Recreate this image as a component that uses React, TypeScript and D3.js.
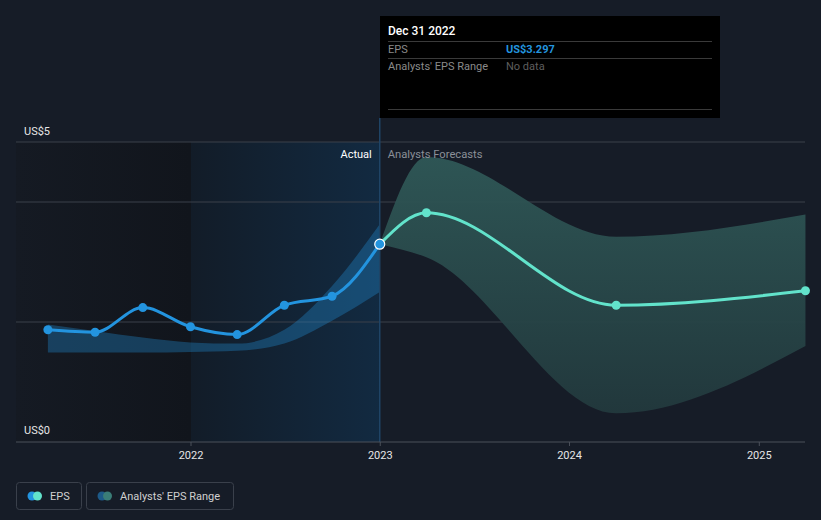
import React from "react";
import * as d3 from "d3";

const W = 821;
const H = 520;

const actualDates = ["2021-03-31", "2021-06-30", "2021-09-30", "2021-12-31", "2022-03-31", "2022-06-30", "2022-09-30", "2022-12-31"];
const actualEps = [1.87, 1.83, 2.24, 1.92, 1.79, 2.28, 2.43, 3.297];
const pastRangeHigh = [1.96, 1.85, 1.74, 1.66, 1.64, 1.87, 2.6, 3.63];
const pastRangeLow = [1.49, 1.49, 1.49, 1.5, 1.52, 1.64, 2.02, 2.5];

const forecastDates = ["2022-12-31", "2023-03-31", "2024-03-31", "2025-03-31"];
const forecastEps = [3.297, 3.82, 2.28, 2.52];
const forecastHigh = [3.297, 4.75, 3.42, 3.79];
const forecastLow = [3.297, 3.08, 0.48, 1.6];

const yearTicks = ["2022", "2023", "2024", "2025"];
const yTickLabels = ["US$0", "US$5"];
const gridValues = [2, 4, 5];

const parse = d3.timeParse("%Y-%m-%d");

export default function App() {
  const x = d3
    .scaleTime()
    .domain([new Date(2022, 0, 1), new Date(2025, 0, 1)])
    .range([191, 759.3]);
  const y = d3.scaleLinear().domain([0, 5]).range([442, 142]);

  const left = 16;
  const right = 805;
  const nowX = x(parse("2022-12-31")!);
  const x2022 = x(new Date(2022, 0, 1));

  const actual = actualDates.map((d, i) => ({ d: parse(d)!, v: actualEps[i], hi: pastRangeHigh[i], lo: pastRangeLow[i] }));
  const fc = forecastDates.map((d, i) => ({ d: parse(d)!, v: forecastEps[i], hi: forecastHigh[i], lo: forecastLow[i] }));

  const line = d3
    .line<{ d: Date; v: number }>()
    .x((p) => x(p.d))
    .y((p) => y(p.v))
    .curve(d3.curveMonotoneX);
  const area = d3
    .area<{ d: Date; hi: number; lo: number }>()
    .x((p) => x(p.d))
    .y0((p) => y(p.lo))
    .y1((p) => y(p.hi))
    .curve(d3.curveMonotoneX);

  const font = "Roboto, 'Noto Sans', sans-serif";

  return (
    <div style={{ position: "absolute", left: 0, top: 0 }}>
      <svg width={W} height={H} style={{ display: "block", fontFamily: font }}>
        <defs>
          <linearGradient id="pastBg" x1="0" x2="1" y1="0" y2="0">
            <stop offset="0" stopColor="#151a23" />
            <stop offset="1" stopColor="#11151c" />
          </linearGradient>
          <linearGradient id="actBg" x1="0" x2="1" y1="0" y2="0">
            <stop offset="0" stopColor="#121c28" />
            <stop offset="1" stopColor="#122a41" />
          </linearGradient>
          <linearGradient id="fcBand" x1="0" x2="0" y1="0" y2="1">
            <stop offset="0" stopColor="#2f5857" />
            <stop offset="1" stopColor="#22393d" />
          </linearGradient>
        </defs>
        <rect x={0} y={0} width={W} height={H} fill="#161c27" />
        <rect x={left} y={y(5)} width={x2022 - left} height={y(0) - y(5)} fill="url(#pastBg)" />
        <rect x={x2022} y={y(5)} width={nowX - x2022} height={y(0) - y(5)} fill="url(#actBg)" />

        {gridValues.map((g) => (
          <line key={g} x1={left} x2={right} y1={y(g)} y2={y(g)} stroke="#3b404a" strokeWidth={1} />
        ))}

        <path d={area(fc) || ""} fill="url(#fcBand)" opacity={0.95} />
        <path d={area(actual) || ""} fill="#2394df" opacity={0.32} />

        <line x1={nowX} x2={nowX} y1={118} y2={y(0)} stroke="#1f4466" strokeWidth={1.5} />

        <line x1={left} x2={right} y1={y(0)} y2={y(0)} stroke="#4b505a" strokeWidth={1} />
        {yearTicks.map((t) => {
          const tx = x(new Date(+t, 0, 1));
          return (
            <g key={t}>
              <line x1={tx} x2={tx} y1={y(0)} y2={y(0) + 4} stroke="#4b505a" />
              <text x={tx} y={459} fill="#e6e6e6" fontSize={11} textAnchor="middle">
                {t}
              </text>
            </g>
          );
        })}

        <text x={24} y={135} fill="#e6e6e6" fontSize={11}>{yTickLabels[1]}</text>
        <text x={24} y={434} fill="#e6e6e6" fontSize={11}>{yTickLabels[0]}</text>

        <text x={nowX - 8} y={158} fill="#ffffff" fontSize={11} textAnchor="end">Actual</text>
        <text x={nowX + 8} y={158} fill="#8a8f98" fontSize={11.2}>Analysts Forecasts</text>

        <path d={line(fc) || ""} fill="none" stroke="#62e3cb" strokeWidth={3} />
        <path d={line(actual) || ""} fill="none" stroke="#2394df" strokeWidth={3} />
        {fc.slice(1).map((p, i) => (
          <circle key={i} cx={x(p.d)} cy={y(p.v)} r={4.5} fill="#62e3cb" />
        ))}
        {actual.slice(0, -1).map((p, i) => (
          <circle key={i} cx={x(p.d)} cy={y(p.v)} r={4.5} fill="#2394df" />
        ))}
        <circle cx={nowX} cy={y(actualEps[actualEps.length - 1])} r={5} fill="#2394df" stroke="#ffffff" strokeWidth={1.2} />

        <rect x={380} y={16} width={340} height={102} fill="#000000" />
        <text x={388} y={35} fill="#ffffff" fontSize={12} fontWeight={500}>Dec 31 2022</text>
        <line x1={388} x2={712} y1={41.5} y2={41.5} stroke="#3a3a3a" />
        <text x={388} y={52.5} fill="#8a8a8a" fontSize={11}>EPS</text>
        <text x={506} y={52.5} fill="#2394df" fontSize={11} fontWeight="bold">US$3.297</text>
        <line x1={388} x2={712} y1={58.5} y2={58.5} stroke="#3a3a3a" />
        <text x={388} y={70} fill="#8a8a8a" fontSize={11}>Analysts' EPS Range</text>
        <text x={506} y={70} fill="#5e5e5e" fontSize={11}>No data</text>
        <line x1={388} x2={712} y1={109.5} y2={109.5} stroke="#3a3a3a" />

        <rect x={16.5} y={482.5} width={65} height={27} rx={3} fill="none" stroke="#3a404b" />
        <circle cx={32} cy={496} r={4.5} fill="#2394df" />
        <circle cx={37.5} cy={496} r={4.5} fill="#62e3cb" />
        <text x={50} y={500} fill="#d0d0d0" fontSize={11}>EPS</text>

        <rect x={86.5} y={482.5} width={147} height={27} rx={3} fill="none" stroke="#3a404b" />
        <circle cx={102} cy={496} r={4.5} fill="#1d5a88" />
        <circle cx={107.5} cy={496} r={4.5} fill="#3a7d77" />
        <text x={120} y={500} fill="#d0d0d0" fontSize={11}>Analysts' EPS Range</text>
      </svg>
    </div>
  );
}
